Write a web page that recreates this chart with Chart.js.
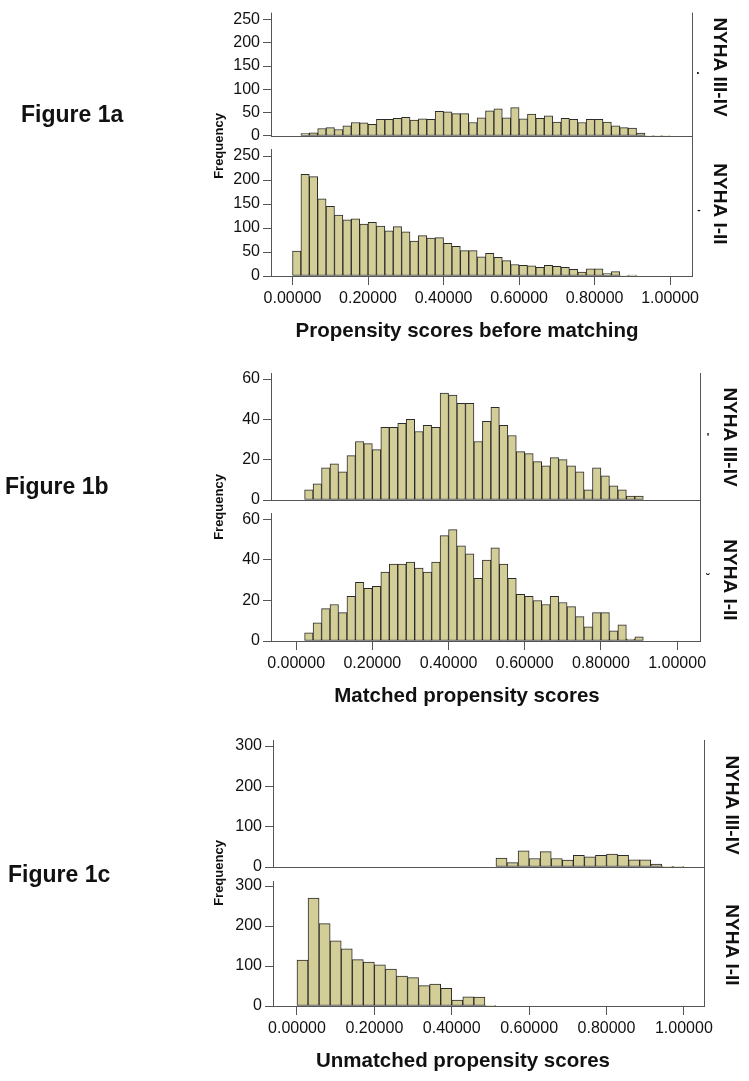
<!DOCTYPE html>
<html>
<head>
<meta charset="utf-8">
<script src="https://cdn.jsdelivr.net/npm/chart.js@4.4.1/dist/chart.umd.min.js"></script>
<style>
  html, body { margin: 0; padding: 0; background: #fff; }
  #page { position: relative; width: 749px; height: 1081px; overflow: hidden; }
  .layer { position: absolute; left: 0; top: 0; width: 749px; height: 1081px; }
</style>
</head>
<body>
<div id="page"></div>
<script>
// tick labels / text
const scoreTicks = [0, 0.2, 0.4, 0.6, 0.8, 1.0];
const freqTicksA = [0, 50, 100, 150, 200, 250];
const freqTicksB = [0, 20, 40, 60];
const freqTicksC = [0, 100, 200, 300];
const groupLabels = ['NYHA III-IV', 'NYHA I-II'];
const figureLabels = ['Figure 1a', 'Figure 1b', 'Figure 1c'];
const axisTitles = ['Propensity scores before matching', 'Matched propensity scores', 'Unmatched propensity scores'];

// bin widths of the histograms
const binAB = 1 / 45;
const binC = 1 / 35;

// counts per bin, starting at score 0
const before34 = [0, 5, 7, 16, 18, 14, 22, 29, 28, 25, 36, 36, 38, 40, 34, 37, 36, 53, 52, 48, 48, 29, 39,
  54, 58, 39, 61, 37, 47, 38, 43, 30, 38, 36, 29, 36, 36, 30, 22, 18, 17, 6, 1, 1, 1];
const before12 = [52, 212, 207, 161, 145, 127, 117, 119, 108, 112, 104, 94, 103, 92, 73, 84, 79, 80, 68, 62,
  53, 53, 40, 47, 39, 32, 24, 22, 21, 18, 22, 20, 18, 14, 8, 15, 15, 5, 9, 1, 2, 0, 0, 0, 0];
const matched34 = [0, 5, 8, 16, 18, 14, 22, 29, 28, 25, 36, 36, 38, 40, 34, 37, 36, 53, 52, 48, 48, 29, 39,
  46, 37, 32, 24, 23, 19, 17, 21, 20, 17, 14, 5, 16, 12, 7, 5, 2, 2, 0, 0, 0, 0];
const matched12 = [0, 4, 9, 16, 18, 14, 22, 29, 26, 27, 34, 38, 38, 39, 36, 34, 39, 52, 55, 47, 43, 31, 40,
  46, 38, 31, 23, 22, 20, 18, 22, 19, 17, 12, 7, 14, 14, 5, 8, 1, 2, 0, 0, 0, 0];
const unmatched34 = [0, 0, 0, 0, 0, 0, 0, 0, 0, 0, 0, 0, 0, 0, 0, 0, 0, 0,
  22, 11, 40, 21, 38, 21, 17, 29, 25, 29, 32, 29, 18, 18, 7, 1, 1];
const unmatched12 = [115, 270, 206, 163, 143, 116, 110, 103, 92, 75, 71, 51, 55, 44, 15, 23, 22, 1,
  0, 0, 0, 0, 0, 0, 0, 0, 0, 0, 0, 0, 0, 0, 0, 0, 0];

const PAGE_W = 749, PAGE_H = 1081;
const FONT = '"Liberation Sans", Arial, sans-serif';
const FILL = '#d3ce97';
const EDGE = '#2b2b2b';
const AXIS = '#555555';
const INK = '#111111';
const X_AXIS_H = 40;

// draws axis line, baseline, right frame and the free texts
const frame = {
  id: 'frame',
  afterDatasetsDraw(chart, args, opts) {
    const { ctx, chartArea: a } = chart;
    ctx.save();
    ctx.strokeStyle = AXIS;
    ctx.lineWidth = 1;
    ctx.beginPath();
    ctx.moveTo(a.left + 0.5, a.top);
    ctx.lineTo(a.left + 0.5, a.bottom + 1);
    ctx.moveTo(a.left, a.bottom + 0.5);
    ctx.lineTo(a.right + 1, a.bottom + 0.5);
    ctx.moveTo(a.right + 0.5, opts.frameTop != null ? opts.frameTop : a.top);
    ctx.lineTo(a.right + 0.5, a.bottom + 1);
    ctx.stroke();
    (opts.texts || []).forEach(t => {
      ctx.save();
      ctx.font = (t.bold ? 'bold ' : '') + t.size + 'px ' + FONT;
      ctx.fillStyle = INK;
      ctx.textAlign = t.align || 'center';
      ctx.textBaseline = 'middle';
      ctx.translate(t.x, t.y);
      ctx.rotate(t.rot || 0);
      ctx.fillText(t.text, 0, 0);
      ctx.restore();
    });
    ctx.restore();
  }
};

function addPanel(p) {
  const layer = document.createElement('div');
  layer.className = 'layer';
  const canvas = document.createElement('canvas');
  layer.appendChild(canvas);
  document.getElementById('page').appendChild(layer);

  new Chart(canvas, {
    type: 'bar',
    data: {
      datasets: [{
        data: p.counts.map((c, i) => ({ x: (i + 0.5) * p.bin, y: c })),
        backgroundColor: FILL,
        borderColor: EDGE,
        borderWidth: 1,
        borderSkipped: false,
        barPercentage: 1,
        categoryPercentage: 1
      }]
    },
    options: {
      responsive: true,
      maintainAspectRatio: false,
      animation: false,
      events: [],
      layout: {
        padding: {
          left: 0,
          top: p.top,
          right: PAGE_W - p.right,
          bottom: PAGE_H - p.bottom - (p.showX ? X_AXIS_H : 0)
        }
      },
      plugins: {
        legend: { display: false },
        tooltip: { enabled: false },
        frame: { frameTop: p.frameTop, texts: p.texts }
      },
      scales: {
        x: {
          type: 'linear',
          min: p.xMin,
          max: p.xMax,
          offset: false,
          display: p.showX,
          afterBuildTicks: s => { s.ticks = scoreTicks.map(v => ({ value: v })); },
          afterFit: s => { s.height = p.showX ? X_AXIS_H : 0; },
          grid: { offset: false, drawOnChartArea: false, drawTicks: true, tickLength: 9, color: AXIS },
          border: { display: false },
          ticks: {
            autoSkip: false, maxRotation: 0, padding: 4, color: INK,
            font: { family: FONT, size: 16 },
            callback: v => v.toFixed(5)
          }
        },
        y: {
          min: 0,
          max: p.yMax,
          afterBuildTicks: s => { s.ticks = p.yTicks.map(v => ({ value: v })); },
          afterFit: s => { s.width = p.left; },
          grid: { drawOnChartArea: false, drawTicks: true, tickLength: 8, color: AXIS },
          border: { display: false },
          ticks: { padding: 3, color: INK, font: { family: FONT, size: 16 } }
        }
      }
    },
    plugins: [frame]
  });
}

const R90 = Math.PI / 2;

// Figure 1a
addPanel({
  counts: before34, bin: binAB, yMax: 264.6, yTicks: freqTicksA,
  top: 9, bottom: 136, left: 271, right: 692, xMin: -0.057, xMax: 1.058, showX: false,
  texts: [
    { text: groupLabels[0], x: 719, y: 67, size: 19, bold: true, rot: R90 },
    { text: '.', x: 698, y: 71, size: 12, bold: true }
  ]
});
addPanel({
  counts: before12, bin: binAB, yMax: 264.6, yTicks: freqTicksA,
  top: 149, bottom: 276, left: 271, right: 692, xMin: -0.057, xMax: 1.058, showX: true, frameTop: 136,
  texts: [
    { text: groupLabels[1], x: 719, y: 204, size: 19, bold: true, rot: R90 },
    { text: '-', x: 699, y: 210, size: 10, bold: true },
    { text: 'Frequency', x: 219, y: 146, size: 13, bold: true, rot: -R90 },
    { text: figureLabels[0], x: 21, y: 116, size: 23, bold: true, align: 'left' },
    { text: axisTitles[0], x: 467, y: 331, size: 20.5, bold: true }
  ]
});

// Figure 1b
addPanel({
  counts: matched34, bin: binAB, yMax: 63, yTicks: freqTicksB,
  top: 373, bottom: 500, left: 271, right: 700, xMin: -0.066, xMax: 1.060, showX: false,
  texts: [
    { text: groupLabels[0], x: 729, y: 437, size: 19, bold: true, rot: R90 },
    { text: '\'', x: 708, y: 438, size: 11, bold: true }
  ]
});
addPanel({
  counts: matched12, bin: binAB, yMax: 63.2, yTicks: freqTicksB,
  top: 513, bottom: 641, left: 271, right: 700, xMin: -0.066, xMax: 1.060, showX: true, frameTop: 500,
  texts: [
    { text: groupLabels[1], x: 729, y: 580, size: 19, bold: true, rot: R90 },
    { text: '\u02d8', x: 708, y: 578, size: 11, bold: true },
    { text: 'Frequency', x: 219, y: 507, size: 13, bold: true, rot: -R90 },
    { text: figureLabels[1], x: 5, y: 488, size: 23, bold: true, align: 'left' },
    { text: axisTitles[1], x: 467, y: 696, size: 20.5, bold: true }
  ]
});

// Figure 1c
addPanel({
  counts: unmatched34, bin: binC, yMax: 314.9, yTicks: freqTicksC,
  top: 740, bottom: 867, left: 273, right: 704, xMin: -0.062, xMax: 1.052, showX: false,
  texts: [
    { text: groupLabels[0], x: 731, y: 805, size: 19, bold: true, rot: R90 }
  ]
});
addPanel({
  counts: unmatched12, bin: binC, yMax: 312.5, yTicks: freqTicksC,
  top: 881, bottom: 1006, left: 273, right: 704, xMin: -0.062, xMax: 1.052, showX: true, frameTop: 867,
  texts: [
    { text: groupLabels[1], x: 731, y: 945, size: 19, bold: true, rot: R90 },
    { text: 'Frequency', x: 219, y: 873, size: 13, bold: true, rot: -R90 },
    { text: figureLabels[2], x: 8, y: 876, size: 23, bold: true, align: 'left' },
    { text: axisTitles[2], x: 463, y: 1061, size: 20.5, bold: true }
  ]
});
</script>
</body>
</html>
